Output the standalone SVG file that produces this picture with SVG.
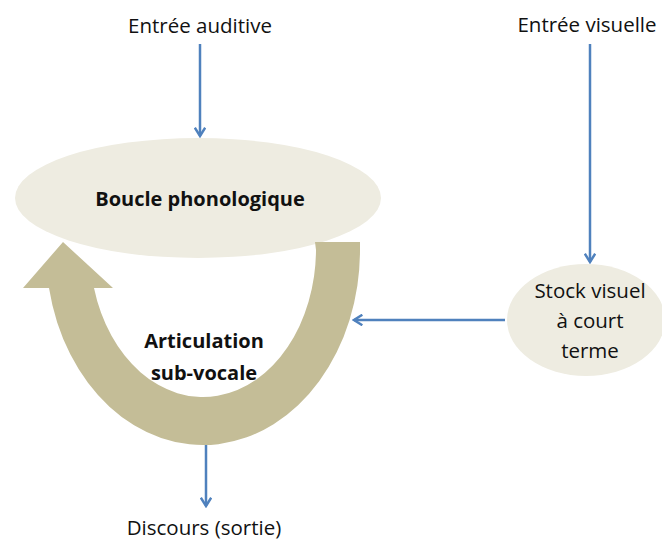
<svg xmlns="http://www.w3.org/2000/svg" width="662" height="540" viewBox="0 0 662 540">
<style>
text{font-family:"Open Sans","Liberation Sans",sans-serif;fill:#111;text-anchor:middle}
.lbl{font-size:20.5px}
.bold{font-size:20px;font-weight:bold}
.conn{stroke:#4F81BD;stroke-width:2.5;fill:none;marker-end:url(#ah)}
.node{fill:#EEECE1}
</style>
<defs>
<marker id="ah" viewBox="0 0 12 12" refX="10" refY="6" markerWidth="5" markerHeight="5" orient="auto" markerUnits="strokeWidth">
<path d="M2 1 L10 6 L2 11" fill="none" stroke="#4F81BD" stroke-width="2.4"/>
</marker>
</defs>
<rect width="662" height="540" fill="#fff"/>
<g id="connectors">
<line class="conn" x1="200" y1="44" x2="200" y2="136"/>
<line class="conn" x1="590" y1="44" x2="590" y2="262"/>
<line class="conn" x1="505" y1="320" x2="354" y2="320"/>
<line class="conn" x1="206" y1="445" x2="206" y2="506"/>
</g>
<g id="boucle">
<ellipse class="node" cx="198" cy="198" rx="183" ry="60"/>
<text class="bold" x="200" y="206">Boucle phonologique</text>
</g>
<g id="articulation">
<path d="M315 242 L360 242 L360 250 A157 195 0 0 1 49 288 L23 288 L63 242 L113 288 L94 288 A113 148 0 0 0 316 250 L315 242 Z" fill="#C4BD97"/>
<text class="bold" x="204" y="348">Articulation</text>
<text class="bold" x="204" y="380">sub-vocale</text>
</g>
<g id="stock">
<ellipse class="node" cx="586" cy="320" rx="79" ry="56"/>
<text class="lbl" x="590" y="298">Stock visuel</text>
<text class="lbl" x="590" y="328">à court</text>
<text class="lbl" x="590" y="358">terme</text>
</g>
<g id="entree-auditive"><text class="lbl" x="200" y="33">Entrée auditive</text></g>
<g id="entree-visuelle"><text class="lbl" x="587" y="32">Entrée visuelle</text></g>
<g id="discours"><text class="lbl" x="204" y="535">Discours (sortie)</text></g>
</svg>
